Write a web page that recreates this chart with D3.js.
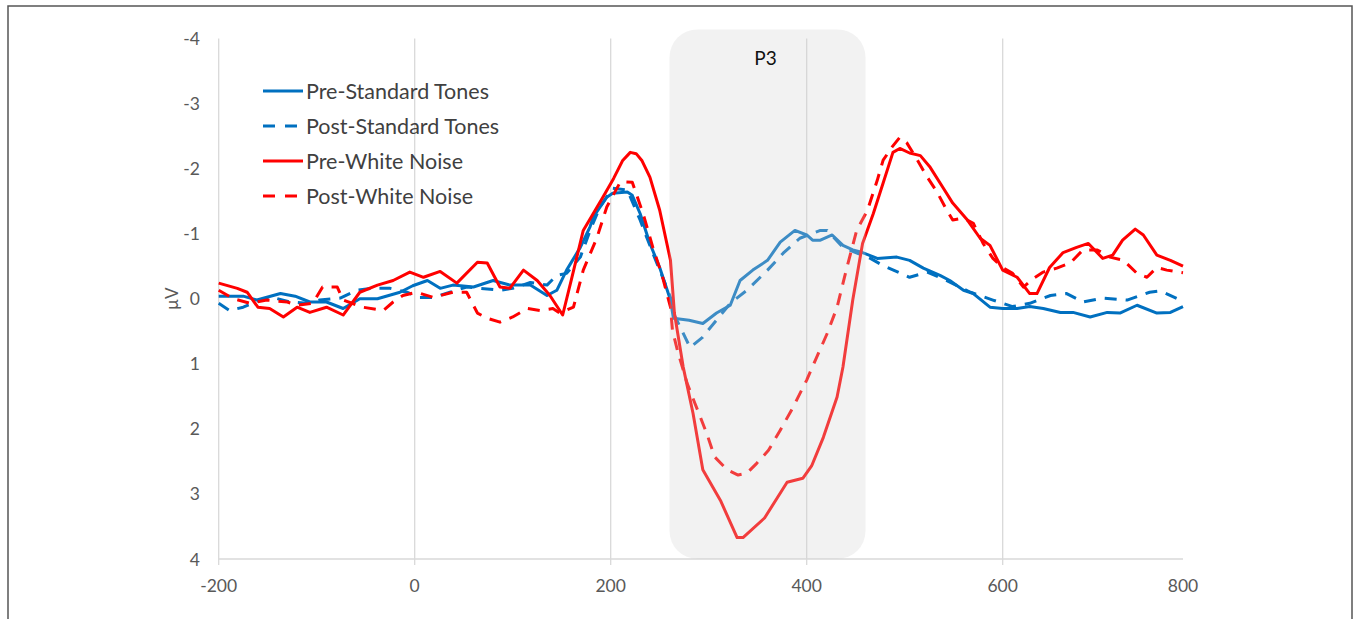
<!DOCTYPE html>
<html>
<head>
<meta charset="utf-8">
<script src="https://cdn.jsdelivr.net/npm/d3@7"></script>
<style>
  html, body { margin: 0; padding: 0; background: #fff; }
  svg { display: block; }
  text { font-family: Lato, "Open Sans", sans-serif; }
</style>
</head>
<body>
<svg id="chart" width="1360" height="619"></svg>
<script>
// ---- Data (time in ms, amplitude in µV; negative plotted up) ----
const seriesNames = ["Pre-Standard Tones", "Post-Standard Tones", "Pre-White Noise", "Post-White Noise"];
const seriesColors = ["#0070C0", "#0070C0", "#FF0000", "#FF0000"];
const seriesDashed = [false, true, false, true];

const preStandard = [
  [-200,-0.04],[-175,-0.04],[-161,0.02],[-137,-0.08],[-122,-0.04],[-107,0.05],[-90,0.05],[-73,0.15],
  [-56,0.00],[-38,0.00],[-15,-0.10],[-2,-0.20],[13,-0.28],[26,-0.16],[39,-0.21],[60,-0.18],[80,-0.28],
  [97,-0.21],[118,-0.21],[135,-0.05],[145,-0.13],[155,-0.44],[169,-0.79],[179,-1.11],[182,-1.25],
  [196,-1.56],[202,-1.62],[217,-1.64],[222,-1.59],[230,-1.31],[240,-0.85],[250,-0.48],[261,0.02],
  [264,0.30],[280,0.33],[294,0.38],[308,0.22],[322,0.10],[332,-0.28],[345,-0.44],[360,-0.59],
  [373,-0.87],[388,-1.05],[400,-0.98],[406,-0.90],[414,-0.90],[426,-0.98],[437,-0.82],[447,-0.75],
  [457,-0.71],[472,-0.62],[492,-0.64],[505,-0.59],[519,-0.47],[536,-0.36],[546,-0.28],[560,-0.13],
  [570,-0.08],[587,0.13],[600,0.15],[616,0.15],[630,0.12],[645,0.15],[664,0.21],[678,0.21],[697,0.28],
  [716,0.21],[730,0.22],[749,0.10],[771,0.22],[786,0.21],[800,0.12]
];
const postStandard = [
  [-200,0.07],[-189,0.18],[-175,0.13],[-158,0.02],[-145,-0.02],[-127,0.05],[-110,0.07],[-97,0.02],
  [-76,-0.01],[-59,-0.13],[-43,-0.16],[-25,-0.16],[-8,-0.10],[5,-0.02],[19,-0.02],[36,-0.10],[53,-0.18],
  [74,-0.15],[87,-0.13],[100,-0.16],[118,-0.25],[135,-0.21],[145,-0.36],[155,-0.39],[169,-0.64],
  [179,-1.05],[189,-1.41],[202,-1.70],[217,-1.67],[230,-1.21],[243,-0.70],[253,-0.33],[261,-0.02],
  [264,0.22],[281,0.75],[294,0.59],[298,0.51],[322,0.07],[339,-0.13],[360,-0.44],[376,-0.70],
  [393,-0.93],[414,-1.05],[421,-1.05],[437,-0.79],[465,-0.62],[478,-0.51],[505,-0.33],[523,-0.41],
  [543,-0.28],[567,-0.10],[590,0.02],[611,0.12],[630,0.07],[653,-0.05],[671,-0.08],[689,0.05],
  [711,-0.01],[738,0.02],[763,-0.10],[775,-0.12],[797,0.02],[800,0.03]
];
const preWhite = [
  [-200,-0.24],[-181,-0.16],[-171,-0.10],[-160,0.13],[-148,0.15],[-134,0.28],[-120,0.13],[-107,0.21],
  [-90,0.13],[-73,0.25],[-56,-0.10],[-38,-0.21],[-22,-0.28],[-5,-0.41],[9,-0.33],[26,-0.42],[43,-0.24],
  [64,-0.56],[74,-0.55],[87,-0.18],[97,-0.16],[111,-0.44],[125,-0.28],[138,-0.05],[151,0.25],
  [160,-0.30],[172,-1.05],[192,-1.56],[203,-1.85],[212,-2.12],[220,-2.25],[226,-2.23],[232,-2.12],
  [240,-1.87],[250,-1.36],[261,-0.59],[265,0.22],[274,1.05],[284,1.76],[294,2.63],[312,3.10],
  [329,3.67],[335,3.67],[357,3.37],[380,2.82],[396,2.76],[405,2.57],[417,2.13],[431,1.51],[437,1.05],
  [447,0.02],[457,-0.85],[468,-1.31],[478,-1.78],[488,-2.25],[495,-2.31],[505,-2.24],[516,-2.20],
  [526,-2.02],[539,-1.71],[549,-1.47],[564,-1.21],[577,-0.93],[587,-0.82],[600,-0.44],[616,-0.33],
  [630,-0.08],[638,-0.08],[652,-0.48],[667,-0.71],[682,-0.79],[695,-0.85],[711,-0.62],[722,-0.67],
  [733,-0.90],[747,-1.07],[756,-0.98],[771,-0.67],[786,-0.59],[800,-0.50]
];
const postWhite = [
  [-200,-0.13],[-185,0.00],[-168,0.07],[-151,0.02],[-130,0.05],[-120,0.10],[-104,0.07],[-94,-0.18],
  [-79,-0.18],[-73,0.02],[-53,0.13],[-32,0.18],[-22,0.05],[-12,-0.05],[2,-0.10],[19,-0.02],[39,-0.10],
  [53,-0.10],[64,0.22],[74,0.30],[87,0.36],[100,0.28],[115,0.15],[128,0.18],[141,0.15],[148,0.22],
  [162,0.13],[172,-0.44],[186,-0.94],[196,-1.41],[210,-1.80],[222,-1.79],[233,-1.31],[243,-0.79],
  [253,-0.33],[261,0.13],[263,0.48],[268,0.79],[278,1.30],[286,1.61],[298,2.07],[306,2.43],[319,2.63],
  [330,2.71],[339,2.68],[349,2.53],[361,2.33],[373,2.02],[386,1.67],[400,1.25],[409,0.94],[421,0.53],
  [431,0.13],[441,-0.48],[451,-1.05],[462,-1.36],[472,-1.82],[478,-2.13],[487,-2.33],[495,-2.48],
  [502,-2.40],[513,-2.13],[523,-1.87],[533,-1.64],[543,-1.36],[549,-1.21],[560,-1.24],[570,-1.16],
  [580,-0.85],[590,-0.62],[600,-0.48],[611,-0.39],[623,-0.18],[634,-0.31],[645,-0.41],[660,-0.47],
  [675,-0.55],[689,-0.75],[705,-0.75],[719,-0.64],[734,-0.59],[749,-0.39],[760,-0.33],[771,-0.48],
  [782,-0.44],[795,-0.41],[800,-0.40]
];
const seriesData = [preStandard, postStandard, preWhite, postWhite];

const xGridTicks = [-200, 0, 200, 400, 600];
const xTickLabels = [-200, 0, 200, 400, 600, 800];
const yTicks = [-4, -3, -2, -1, 0, 1, 2, 3, 4];
const yLabel = "µV";
const windowRange = [260, 460];
const windowLabel = "P3";

// ---- Scales ----
const svg = d3.select("#chart");
const x = d3.scaleLinear().domain([-200, 600, 800]).range([218.7, 1002.7, 1183]);
const y = d3.scaleLinear().domain([-4, 4]).range([38.5, 559]);

// outer frame
svg.append("rect").attr("x", 8).attr("y", 6).attr("width", 1344).attr("height", 640)
  .attr("fill", "none").attr("stroke", "#555").attr("stroke-width", 1.5);

// vertical gridlines (with small tick extension below axis)
svg.append("g").selectAll("line").data(xGridTicks).join("line")
  .attr("x1", d => x(d)).attr("x2", d => x(d))
  .attr("y1", y(-4)).attr("y2", y(4) + 6)
  .attr("stroke", "#d9d9d9").attr("stroke-width", 1.3);

// x axis line
svg.append("line").attr("x1", x(-200)).attr("x2", x(800))
  .attr("y1", y(4)).attr("y2", y(4))
  .attr("stroke", "#d9d9d9").attr("stroke-width", 1.3);

// x tick labels
svg.append("g").selectAll("text").data(xTickLabels).join("text")
  .attr("x", d => x(d)).attr("y", y(4) + 26)
  .attr("text-anchor", "middle").attr("dominant-baseline", "central")
  .attr("font-size", 17.5).attr("fill", "#595959")
  .text(d => d);

// y tick labels
svg.append("g").selectAll("text").data(yTicks).join("text")
  .attr("x", 200).attr("y", d => y(d))
  .attr("text-anchor", "end").attr("dominant-baseline", "central")
  .attr("font-size", 17.5).attr("fill", "#595959")
  .text(d => d);

// y axis title
svg.append("text")
  .attr("transform", `translate(171,${y(0)}) rotate(-90)`)
  .attr("text-anchor", "middle").attr("dominant-baseline", "central")
  .attr("font-size", 17).attr("fill", "#595959")
  .text(yLabel);

// lines
const line = d3.line().x(d => x(d[0])).y(d => y(d[1])).curve(d3.curveLinear);
svg.append("g").selectAll("path").data(seriesData).join("path")
  .attr("d", d => line(d))
  .attr("fill", "none")
  .attr("stroke", (d, i) => seriesColors[i])
  .attr("stroke-width", 3)
  .attr("stroke-linejoin", "round")
  .attr("stroke-dasharray", (d, i) => seriesDashed[i] ? "12,9" : null);

// P3 window overlay (semi-transparent, on top of lines)
svg.append("rect")
  .attr("x", x(windowRange[0])).attr("width", x(windowRange[1]) - x(windowRange[0]))
  .attr("y", y(-4.14)).attr("height", y(4) - y(-4.14))
  .attr("rx", 28).attr("ry", 28)
  .attr("fill", "rgb(210,210,210)").attr("fill-opacity", 0.29);

svg.append("text")
  .attr("x", x(358)).attr("y", 57)
  .attr("text-anchor", "middle").attr("dominant-baseline", "central")
  .attr("font-size", 19).attr("fill", "#111")
  .text(windowLabel);

// legend
const legend = svg.append("g").selectAll("g").data(seriesNames).join("g")
  .attr("transform", (d, i) => `translate(263,${91 + i * 35})`);
legend.append("line").attr("x1", 0).attr("x2", 40).attr("y1", 0).attr("y2", 0)
  .attr("stroke", (d, i) => seriesColors[i]).attr("stroke-width", 3)
  .attr("stroke-dasharray", (d, i) => seriesDashed[i] ? "12,10" : null);
legend.append("text").attr("x", 43).attr("y", 0)
  .attr("dominant-baseline", "central")
  .attr("font-size", 21.5).attr("fill", "#404040")
  .text(d => d);
</script>
</body>
</html>
